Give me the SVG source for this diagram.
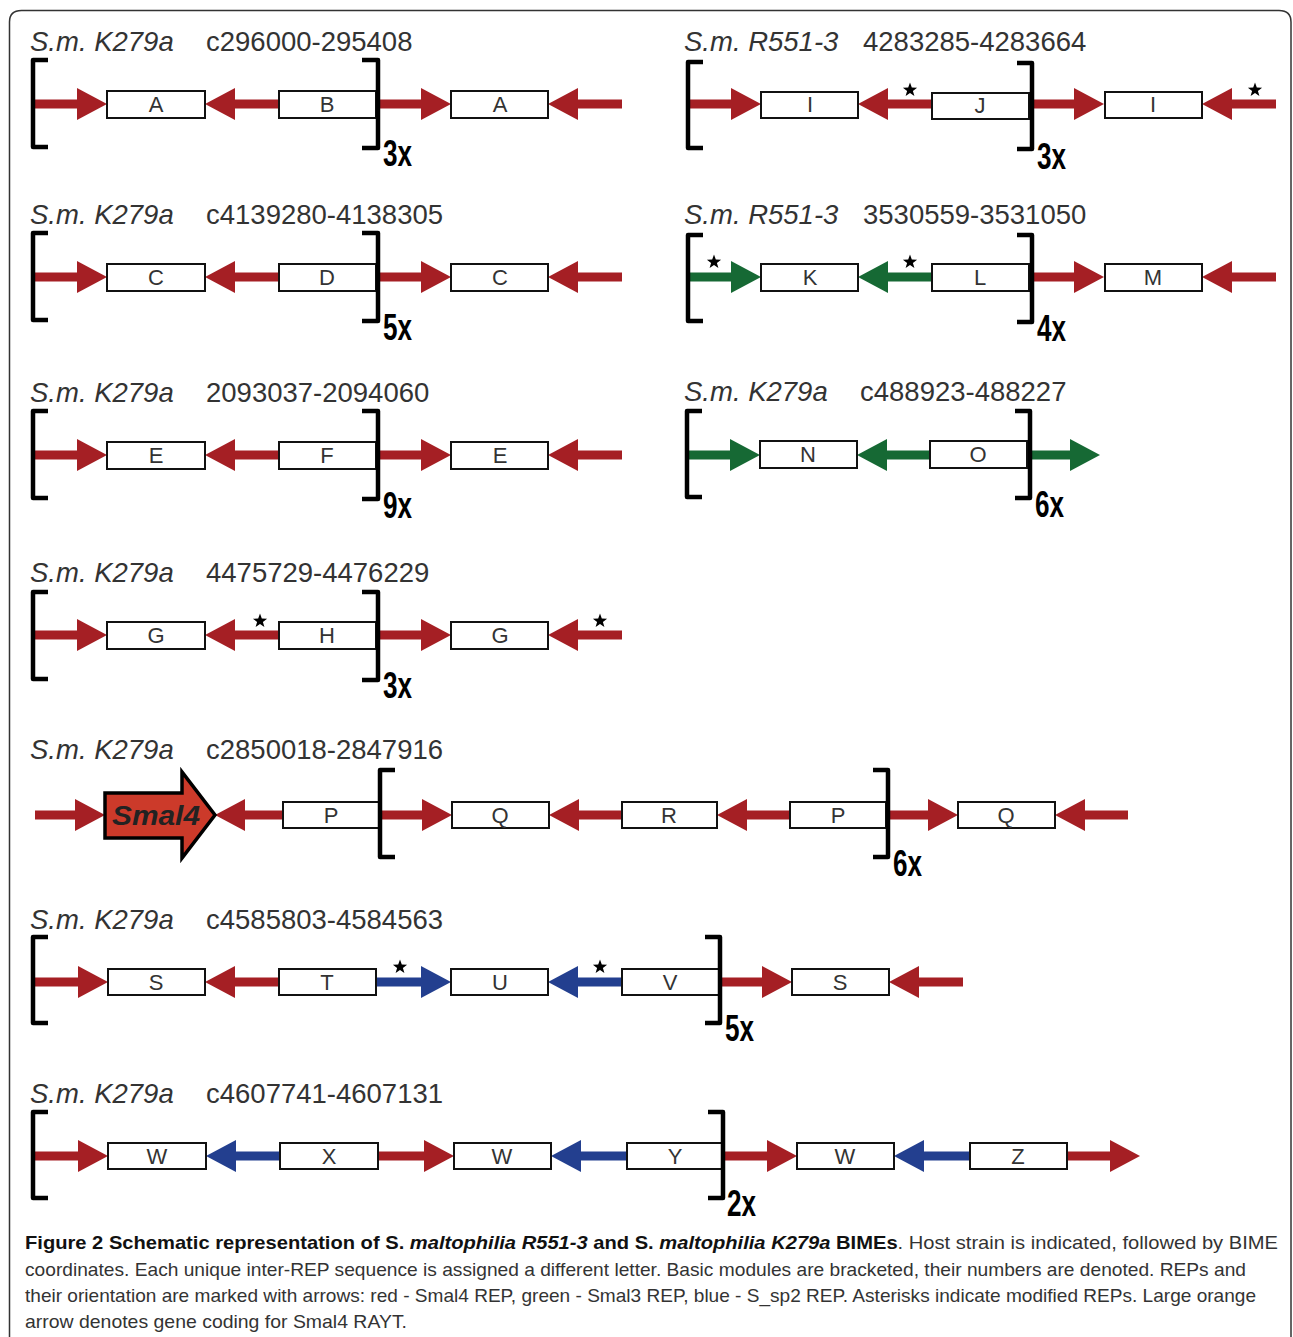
<svg xmlns="http://www.w3.org/2000/svg" xmlns:xlink="http://www.w3.org/1999/xlink" width="1293" height="1337" viewBox="0 0 1293 1337">
<style>
.title{font-family:"Liberation Sans",Arial,sans-serif;font-size:27.5px;fill:#333}
.it{font-style:italic}
.box{fill:#fff;stroke:#111;stroke-width:2}
.lbl{font-family:"Liberation Sans",Arial,sans-serif;font-size:22px;fill:#333;text-anchor:middle}
.br{fill:none;stroke:#000;stroke-width:4.5;stroke-linejoin:round}
.cnt{font-family:"Liberation Sans Narrow","Liberation Sans",Arial,sans-serif;font-weight:bold;font-size:37px;fill:#000}
.r{fill:#a51f24}
.g{fill:#166934}
.b{fill:#233f8f}
.cap{font-family:"Liberation Sans Narrow","Liberation Sans",Arial,sans-serif;font-size:19px;fill:#333}
.bold{font-weight:bold;fill:#111}
</style>
<defs>
<polygon id="star" points="0,-7.5 1.8,-2.4 7.1,-2.3 2.9,0.9 4.4,6 0,3 -4.4,6 -2.9,0.9 -7.1,-2.3 -1.8,-2.4" fill="#000"/>
</defs>
<path d="M9.5 1337 V22 Q9.5 10.5 21.5 10.5 H1279 Q1291 10.5 1291 22 V1337" fill="none" stroke="#333" stroke-width="1.5"/>

<g id="connectors">
<path class="r" d="M35 99.5H77V88L107 104L77 120V108.5H35Z"/>
<path class="r" d="M279 99.5H235V88L205 104L235 120V108.5H279Z"/>
<path class="r" d="M380 99.5H421V88L451 104L421 120V108.5H380Z"/>
<path class="r" d="M622 99.5H578V88L548 104L578 120V108.5H622Z"/>
<path class="r" d="M35 272.5H77V261L107 277L77 293V281.5H35Z"/>
<path class="r" d="M279 272.5H235V261L205 277L235 293V281.5H279Z"/>
<path class="r" d="M380 272.5H421V261L451 277L421 293V281.5H380Z"/>
<path class="r" d="M622 272.5H578V261L548 277L578 293V281.5H622Z"/>
<path class="r" d="M35 450.5H77V439L107 455L77 471V459.5H35Z"/>
<path class="r" d="M279 450.5H235V439L205 455L235 471V459.5H279Z"/>
<path class="r" d="M380 450.5H421V439L451 455L421 471V459.5H380Z"/>
<path class="r" d="M622 450.5H578V439L548 455L578 471V459.5H622Z"/>
<path class="r" d="M35 630.5H77V619L107 635L77 651V639.5H35Z"/>
<path class="r" d="M279 630.5H235V619L205 635L235 651V639.5H279Z"/>
<path class="r" d="M380 630.5H421V619L451 635L421 651V639.5H380Z"/>
<path class="r" d="M622 630.5H578V619L548 635L578 651V639.5H622Z"/>
<path class="r" d="M690 99.5H731V88L761 104L731 120V108.5H690Z"/>
<path class="r" d="M932 99.5H888V88L858 104L888 120V108.5H932Z"/>
<path class="r" d="M1034 99.5H1074V88L1104 104L1074 120V108.5H1034Z"/>
<path class="r" d="M1276 99.5H1232V88L1202 104L1232 120V108.5H1276Z"/>
<path class="g" d="M690 272.5H731V261L761 277L731 293V281.5H690Z"/>
<path class="g" d="M932 272.5H888V261L858 277L888 293V281.5H932Z"/>
<path class="r" d="M1034 272.5H1074V261L1104 277L1074 293V281.5H1034Z"/>
<path class="r" d="M1276 272.5H1232V261L1202 277L1232 293V281.5H1276Z"/>
<path class="g" d="M689 450.5H730V439L760 455L730 471V459.5H689Z"/>
<path class="g" d="M930 450.5H887V439L857 455L887 471V459.5H930Z"/>
<path class="g" d="M1032 450.5H1070V439L1100 455L1070 471V459.5H1032Z"/>
<path class="r" d="M35 810.5H75V799L105 815L75 831V819.5H35Z"/>
<path class="r" d="M283 810.5H245V799L215 815L245 831V819.5H283Z"/>
<path class="r" d="M382 810.5H422V799L452 815L422 831V819.5H382Z"/>
<path class="r" d="M622 810.5H579V799L549 815L579 831V819.5H622Z"/>
<path class="r" d="M790 810.5H747V799L717 815L747 831V819.5H790Z"/>
<path class="r" d="M890 810.5H928V799L958 815L928 831V819.5H890Z"/>
<path class="r" d="M1128 810.5H1085V799L1055 815L1085 831V819.5H1128Z"/>
<path class="r" d="M35 977.5H78V966L108 982L78 998V986.5H35Z"/>
<path class="r" d="M279 977.5H235V966L205 982L235 998V986.5H279Z"/>
<path class="b" d="M376 977.5H421V966L451 982L421 998V986.5H376Z"/>
<path class="b" d="M622 977.5H578V966L548 982L578 998V986.5H622Z"/>
<path class="r" d="M722 977.5H762V966L792 982L762 998V986.5H722Z"/>
<path class="r" d="M963 977.5H919V966L889 982L919 998V986.5H963Z"/>
<path class="r" d="M35 1151.5H78V1140L108 1156L78 1172V1160.5H35Z"/>
<path class="b" d="M280 1151.5H236V1140L206 1156L236 1172V1160.5H280Z"/>
<path class="r" d="M378 1151.5H424V1140L454 1156L424 1172V1160.5H378Z"/>
<path class="b" d="M627 1151.5H581V1140L551 1156L581 1172V1160.5H627Z"/>
<path class="r" d="M725 1151.5H767V1140L797 1156L767 1172V1160.5H725Z"/>
<path class="b" d="M970 1151.5H924V1140L894 1156L924 1172V1160.5H970Z"/>
<path class="r" d="M1067 1151.5H1110V1140L1140 1156L1110 1172V1160.5H1067Z"/>
<use xlink:href="#star" x="910" y="90"/>
<use xlink:href="#star" x="1255" y="90"/>
<use xlink:href="#star" x="714" y="262"/>
<use xlink:href="#star" x="910" y="262"/>
<use xlink:href="#star" x="260" y="621"/>
<use xlink:href="#star" x="600" y="621"/>
<use xlink:href="#star" x="400" y="967"/>
<use xlink:href="#star" x="600" y="967"/>
</g>

<g id="block1">
<text class="title" x="30" y="51"><tspan class="it">S.m. K279a</tspan><tspan x="206">c296000-295408</tspan></text>
<path class="br" d="M48 60H33V147H48"/>
<g id="n1a"><rect class="box" x="107" y="91" width="98" height="27"/><text class="lbl" x="156" y="112">A</text></g>
<g id="n1b"><rect class="box" x="279" y="91" width="97" height="27"/><text class="lbl" x="327" y="112">B</text></g>
<path class="br" d="M362 60H378V148H362"/>
<text class="cnt" x="383" y="166" textLength="29" lengthAdjust="spacingAndGlyphs">3x</text>
<g id="n1c"><rect class="box" x="451" y="91" width="97" height="27"/><text class="lbl" x="500" y="112">A</text></g>
</g>

<g id="block2">
<text class="title" x="30" y="224"><tspan class="it">S.m. K279a</tspan><tspan x="206">c4139280-4138305</tspan></text>
<path class="br" d="M48 233H33V320H48"/>
<g id="n2a"><rect class="box" x="107" y="264" width="98" height="27"/><text class="lbl" x="156" y="285">C</text></g>
<g id="n2b"><rect class="box" x="279" y="264" width="97" height="27"/><text class="lbl" x="327" y="285">D</text></g>
<path class="br" d="M362 233H378V321H362"/>
<text class="cnt" x="383" y="340" textLength="29" lengthAdjust="spacingAndGlyphs">5x</text>
<g id="n2c"><rect class="box" x="451" y="264" width="97" height="27"/><text class="lbl" x="500" y="285">C</text></g>
</g>

<g id="block3">
<text class="title" x="30" y="402"><tspan class="it">S.m. K279a</tspan><tspan x="206">2093037-2094060</tspan></text>
<path class="br" d="M48 411H33V498H48"/>
<g id="n3a"><rect class="box" x="107" y="442" width="98" height="27"/><text class="lbl" x="156" y="463">E</text></g>
<g id="n3b"><rect class="box" x="279" y="442" width="97" height="27"/><text class="lbl" x="327" y="463">F</text></g>
<path class="br" d="M362 411H378V499H362"/>
<text class="cnt" x="383" y="518" textLength="29" lengthAdjust="spacingAndGlyphs">9x</text>
<g id="n3c"><rect class="box" x="451" y="442" width="97" height="27"/><text class="lbl" x="500" y="463">E</text></g>
</g>

<g id="block4">
<text class="title" x="30" y="582"><tspan class="it">S.m. K279a</tspan><tspan x="206">4475729-4476229</tspan></text>
<path class="br" d="M48 592H33V679H48"/>
<g id="n4a"><rect class="box" x="107" y="622" width="98" height="27"/><text class="lbl" x="156" y="643">G</text></g>
<g id="n4b"><rect class="box" x="279" y="622" width="97" height="27"/><text class="lbl" x="327" y="643">H</text></g>
<path class="br" d="M362 592H378V680H362"/>
<text class="cnt" x="383" y="698" textLength="29" lengthAdjust="spacingAndGlyphs">3x</text>
<g id="n4c"><rect class="box" x="451" y="622" width="97" height="27"/><text class="lbl" x="500" y="643">G</text></g>
</g>

<g id="blockR1">
<text class="title" x="684" y="51"><tspan class="it">S.m. R551-3</tspan><tspan x="863">4283285-4283664</tspan></text>
<path class="br" d="M703 62H688V148H703"/>
<g id="nR1a"><rect class="box" x="761" y="92" width="97" height="26"/><text class="lbl" x="810" y="112">I</text></g>
<g id="nR1b"><rect class="box" x="932" y="93" width="97" height="26"/><text class="lbl" x="980" y="113">J</text></g>
<path class="br" d="M1017 63H1032V149H1017"/>
<text class="cnt" x="1037" y="169" textLength="29" lengthAdjust="spacingAndGlyphs">3x</text>
<g id="nR1c"><rect class="box" x="1105" y="92" width="97" height="26"/><text class="lbl" x="1153" y="112">I</text></g>
</g>

<g id="blockR2">
<text class="title" x="684" y="224"><tspan class="it">S.m. R551-3</tspan><tspan x="863">3530559-3531050</tspan></text>
<path class="br" d="M703 235H688V321H703"/>
<g id="nR2a"><rect class="box" x="761" y="264" width="97" height="27"/><text class="lbl" x="810" y="285">K</text></g>
<g id="nR2b"><rect class="box" x="932" y="264" width="97" height="27"/><text class="lbl" x="980" y="285">L</text></g>
<path class="br" d="M1017 235H1032V322H1017"/>
<text class="cnt" x="1037" y="341" textLength="29" lengthAdjust="spacingAndGlyphs">4x</text>
<g id="nR2c"><rect class="box" x="1105" y="264" width="97" height="27"/><text class="lbl" x="1153" y="285">M</text></g>
</g>

<g id="blockR3">
<text class="title" x="684" y="401"><tspan class="it">S.m. K279a</tspan><tspan x="860">c488923-488227</tspan></text>
<path class="br" d="M702 411H687V497H702"/>
<g id="nR3a"><rect class="box" x="760" y="441" width="97" height="27"/><text class="lbl" x="808" y="462">N</text></g>
<g id="nR3b"><rect class="box" x="930" y="441" width="97" height="27"/><text class="lbl" x="978" y="462">O</text></g>
<path class="br" d="M1015 411H1030V498H1015"/>
<text class="cnt" x="1035" y="517" textLength="29" lengthAdjust="spacingAndGlyphs">6x</text>
</g>

<g id="block5">
<text class="title" x="30" y="759"><tspan class="it">S.m. K279a</tspan><tspan x="206">c2850018-2847916</tspan></text>
<g id="smal4">
<polygon points="105,793 182,793 182,772 215,815 182,858 182,838 105,838" fill="#cc3a2a" stroke="#000" stroke-width="3.5" stroke-linejoin="miter"/>
<text x="112" y="825" font-family="Liberation Sans,Arial,sans-serif" font-size="28" font-weight="bold" font-style="italic" fill="#222" textLength="88" lengthAdjust="spacingAndGlyphs">Smal4</text>
</g>
<g id="n5p1"><rect class="box" x="283" y="802" width="96" height="26"/><text class="lbl" x="331" y="823">P</text></g>
<path class="br" d="M395 770H380V857H395"/>
<g id="n5q1"><rect class="box" x="452" y="802" width="97" height="26"/><text class="lbl" x="500" y="823">Q</text></g>
<g id="n5r"><rect class="box" x="622" y="802" width="95" height="26"/><text class="lbl" x="669" y="823">R</text></g>
<g id="n5p2"><rect class="box" x="790" y="802" width="96" height="26"/><text class="lbl" x="838" y="823">P</text></g>
<path class="br" d="M873 770H888V857H873"/>
<text class="cnt" x="893" y="876" textLength="29" lengthAdjust="spacingAndGlyphs">6x</text>
<g id="n5q2"><rect class="box" x="958" y="802" width="97" height="26"/><text class="lbl" x="1006" y="823">Q</text></g>
</g>

<g id="block6">
<text class="title" x="30" y="929"><tspan class="it">S.m. K279a</tspan><tspan x="206">c4585803-4584563</tspan></text>
<path class="br" d="M48 937H33V1023H48"/>
<g id="n6s1"><rect class="box" x="108" y="969" width="97" height="26"/><text class="lbl" x="156" y="990">S</text></g>
<g id="n6t"><rect class="box" x="279" y="969" width="97" height="26"/><text class="lbl" x="327" y="990">T</text></g>
<g id="n6u"><rect class="box" x="451" y="969" width="97" height="26"/><text class="lbl" x="500" y="990">U</text></g>
<g id="n6v"><rect class="box" x="622" y="969" width="97" height="26"/><text class="lbl" x="670" y="990">V</text></g>
<path class="br" d="M705 937H720V1023H705"/>
<text class="cnt" x="725" y="1041" textLength="29" lengthAdjust="spacingAndGlyphs">5x</text>
<g id="n6s2"><rect class="box" x="792" y="969" width="97" height="26"/><text class="lbl" x="840" y="990">S</text></g>
</g>

<g id="block7">
<text class="title" x="30" y="1103"><tspan class="it">S.m. K279a</tspan><tspan x="206">c4607741-4607131</tspan></text>
<path class="br" d="M48 1112H33V1198H48"/>
<g id="n7w1"><rect class="box" x="108" y="1143" width="98" height="26"/><text class="lbl" x="157" y="1164">W</text></g>
<g id="n7x"><rect class="box" x="280" y="1143" width="98" height="26"/><text class="lbl" x="329" y="1164">X</text></g>
<g id="n7w2"><rect class="box" x="454" y="1143" width="97" height="26"/><text class="lbl" x="502" y="1164">W</text></g>
<g id="n7y"><rect class="box" x="627" y="1143" width="95" height="26"/><text class="lbl" x="675" y="1164">Y</text></g>
<path class="br" d="M708 1112H723V1198H708"/>
<text class="cnt" x="727" y="1216" textLength="29" lengthAdjust="spacingAndGlyphs">2x</text>
<g id="n7w3"><rect class="box" x="797" y="1143" width="97" height="26"/><text class="lbl" x="845" y="1164">W</text></g>
<g id="n7z"><rect class="box" x="970" y="1143" width="97" height="26"/><text class="lbl" x="1018" y="1164">Z</text></g>
</g>

<g id="caption">
<text class="cap" x="25" y="1249" textLength="1253" lengthAdjust="spacingAndGlyphs"><tspan class="bold">Figure 2 Schematic representation of S. </tspan><tspan class="bold" font-style="italic">maltophilia R551-3</tspan><tspan class="bold"> and S. </tspan><tspan class="bold" font-style="italic">maltophilia K279a</tspan><tspan class="bold"> BIMEs</tspan>. Host strain is indicated, followed by BIME</text>
<text class="cap" x="25" y="1276" textLength="1221" lengthAdjust="spacingAndGlyphs">coordinates. Each unique inter-REP sequence is assigned a different letter. Basic modules are bracketed, their numbers are denoted. REPs and</text>
<text class="cap" x="25" y="1302" textLength="1231" lengthAdjust="spacingAndGlyphs">their orientation are marked with arrows: red - Smal4 REP, green - Smal3 REP, blue - S_sp2 REP. Asterisks indicate modified REPs. Large orange</text>
<text class="cap" x="25" y="1328" textLength="382" lengthAdjust="spacingAndGlyphs">arrow denotes gene coding for Smal4 RAYT.</text>
</g>
</svg>
